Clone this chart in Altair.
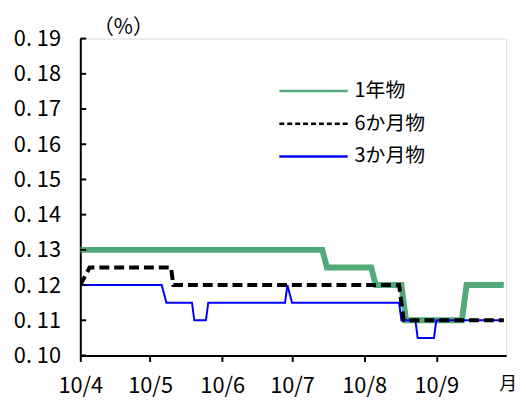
import altair as alt
import pandas as pd

FONT = "Noto Sans CJK JP"

# ---- data ----
series_names = ["1年物", "6か月物", "3か月物"]
series_colors = ["#52A97A", "#000000", "#0000FF"]

one_year_dates = ["2010-04-01", "2010-07-14", "2010-07-16", "2010-08-04", "2010-08-06",
                  "2010-08-17", "2010-08-19", "2010-09-12", "2010-09-14", "2010-09-30"]
one_year_values = [0.13, 0.13, 0.125, 0.125, 0.12, 0.12, 0.11, 0.11, 0.12, 0.12]

six_month_dates = ["2010-04-01", "2010-04-05", "2010-05-10", "2010-05-11",
                   "2010-08-16", "2010-08-18", "2010-09-30"]
six_month_values = [0.12, 0.125, 0.125, 0.12, 0.12, 0.11, 0.11]

three_month_dates = ["2010-04-01", "2010-05-06", "2010-05-08", "2010-05-19", "2010-05-20",
                     "2010-05-25", "2010-05-26", "2010-06-28", "2010-06-29", "2010-07-01",
                     "2010-08-16", "2010-08-17", "2010-08-23", "2010-08-24", "2010-08-31",
                     "2010-09-01", "2010-09-30"]
three_month_values = [0.12, 0.12, 0.115, 0.115, 0.11, 0.11, 0.115, 0.115, 0.12, 0.115,
                      0.115, 0.11, 0.11, 0.105, 0.105, 0.11, 0.11]

y_ticks = [0.10, 0.11, 0.12, 0.13, 0.14, 0.15, 0.16, 0.17, 0.18, 0.19]
x_tick_months = [4, 5, 6, 7, 8, 9]
unit_label = "（%）"
month_label = "月"

W, H = 430, 320

x_scale = alt.Scale(type="utc",
                    domain=[alt.DateTime(year=2010, month=4, date=1, utc=True),
                            alt.DateTime(year=2010, month=10, date=1, utc=True)])
y_scale = alt.Scale(domain=[0.10, 0.19], nice=False, zero=False)

x_axis = alt.Axis(
    values=[alt.DateTime(year=2010, month=m, date=1, utc=True) for m in x_tick_months],
    labelExpr="utcFormat(datum.value, '%y/%-m')",
    title=None, grid=False, domainColor="black", domainWidth=2,
    tickColor="black", tickWidth=2, tickSize=6, labelFlush=False,
    labelFont=FONT, labelFontSize=22, labelColor="black", labelPadding=24,
    labelBaseline="middle",
)
y_axis = alt.Axis(
    values=y_ticks,
    labelExpr="replace(format(datum.value, '.2f'), '.', '. ')",
    ticks=False, grid=False, domainColor="black", domainWidth=2,
    labelFont=FONT, labelFontSize=22, labelColor="black", labelPadding=20,
    title=unit_label, titleAngle=0, titleX=43, titleY=-11,
    titleAlign="center", titleBaseline="middle", titleFont=FONT,
    titleFontSize=21, titleFontWeight="normal", titleColor="black",
)


def series_df(dates, values):
    return pd.DataFrame({"date": dates, "rate": values})


def line_layer(dates, values, color, width, dash=None):
    kw = dict(color=color, strokeWidth=width, strokeJoin="miter", clip=True)
    if dash:
        kw["strokeDash"] = dash
    return alt.Chart(series_df(dates, values)).mark_line(**kw).encode(
        x=alt.X("date:T", scale=x_scale, axis=x_axis),
        y=alt.Y("rate:Q", scale=y_scale, axis=y_axis),
    )


green = line_layer(one_year_dates, one_year_values, series_colors[0], 6)
blue = line_layer(three_month_dates, three_month_values, series_colors[2], 2)
black = line_layer(six_month_dates, six_month_values, series_colors[1], 4, [10, 5])

# inward y ticks
y_tick_marks = alt.Chart(pd.DataFrame({"rate": y_ticks})).mark_rule(
    color="black", strokeWidth=2).encode(
    y=alt.Y("rate:Q", scale=y_scale, axis=y_axis),
    x=alt.value(0), x2=alt.value(6),
)

# legend (manual)
legend_y = [53, 86, 119]
legend_dash = [None, [5, 3], None]
legend_layers = []
for i, name in enumerate(series_names):
    rkw = dict(color=series_colors[i], strokeWidth=2.5)
    if legend_dash[i]:
        rkw["strokeDash"] = legend_dash[i]
    legend_layers.append(
        alt.Chart(pd.DataFrame({"s": [name]})).mark_rule(**rkw).encode(
            x=alt.value(201), x2=alt.value(270), y=alt.value(legend_y[i]))
    )
    legend_layers.append(
        alt.Chart(pd.DataFrame({"s": [name]})).mark_text(
            align="left", baseline="middle", font=FONT, fontSize=20, color="black").encode(
            x=alt.value(277), y=alt.value(legend_y[i]), text="s:N")
    )

month_text = alt.Chart(pd.DataFrame({"s": [month_label]})).mark_text(
    align="center", baseline="middle", font=FONT, fontSize=18, color="black").encode(
    x=alt.value(W + 2), y=alt.value(H + 30), text="s:N")

chart = alt.layer(green, blue, black, y_tick_marks, *legend_layers, month_text).properties(
    width=W, height=H,
    autosize=alt.AutoSizeParams(type="none"),
    padding={"left": 73, "top": 29, "right": 12, "bottom": 41},
).configure_view(stroke=None).configure(background="white")

chart.save("out.html", embed_options={"renderer": "svg", "actions": False})
